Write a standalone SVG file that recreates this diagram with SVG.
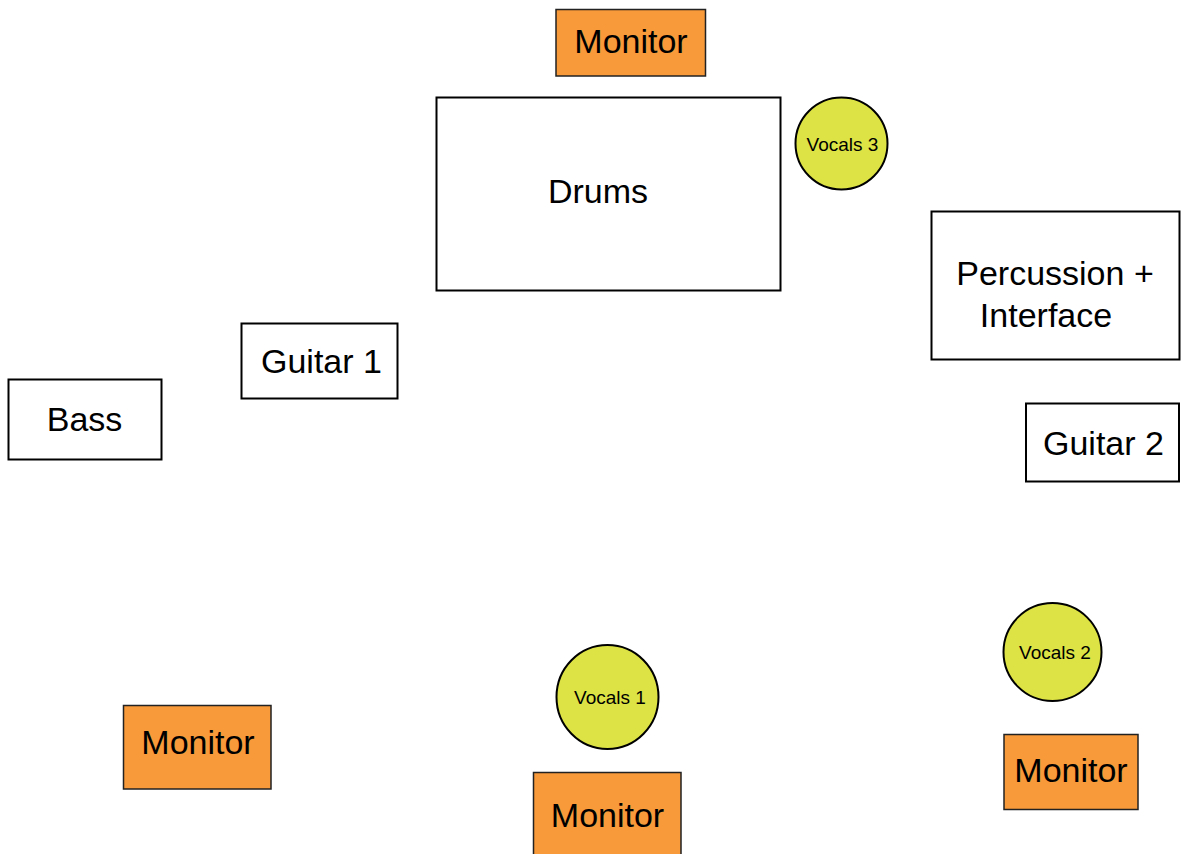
<svg xmlns="http://www.w3.org/2000/svg" width="1182" height="854" viewBox="0 0 1182 854">
<style>
.box{fill:#ffffff;stroke:#000000;stroke-width:2}
.mon{fill:#F8993A;stroke:#222222;stroke-width:1.5}
.voc{fill:#DDE344;stroke:#000000;stroke-width:2}
.t{font-family:"Liberation Sans",Arial,sans-serif;font-size:34px;fill:#000;text-anchor:middle}
.s{font-family:"Liberation Sans",Arial,sans-serif;font-size:19px;fill:#000;text-anchor:middle}
</style>
<rect width="1182" height="854" fill="#ffffff"/>
<g id="connectors"></g>
<g id="monitor-top"><rect class="mon" x="556" y="9.5" width="149.5" height="66.5"/><text class="t" x="631" y="53">Monitor</text></g>
<g id="drums"><rect class="box" x="436.5" y="97.5" width="344" height="193"/><text class="t" x="598" y="203">Drums</text></g>
<g id="vocals3"><circle class="voc" cx="841.5" cy="143.5" r="46"/><text class="s" x="842.5" y="151">Vocals 3</text></g>
<g id="percussion"><rect class="box" x="931.5" y="211.5" width="248" height="148"/><text class="t" x="1055" y="285">Percussion +</text><text class="t" x="1046" y="327">Interface</text></g>
<g id="guitar1"><rect class="box" x="241.5" y="323.5" width="156" height="75"/><text class="t" x="321.5" y="373">Guitar 1</text></g>
<g id="bass"><rect class="box" x="8.5" y="379.5" width="153" height="80"/><text class="t" x="84.5" y="431">Bass</text></g>
<g id="guitar2"><rect class="box" x="1026" y="403.5" width="153" height="78"/><text class="t" x="1103.5" y="455">Guitar 2</text></g>
<g id="vocals2"><circle class="voc" cx="1052.5" cy="652" r="49"/><text class="s" x="1055" y="659">Vocals 2</text></g>
<g id="vocals1"><ellipse class="voc" cx="607.5" cy="697" rx="51" ry="52"/><text class="s" x="610" y="704">Vocals 1</text></g>
<g id="monitor-left"><rect class="mon" x="123.5" y="705.5" width="147.5" height="83.5"/><text class="t" x="198" y="754">Monitor</text></g>
<g id="monitor-bottom"><rect class="mon" x="533.5" y="772.5" width="147.5" height="90"/><text class="t" x="607.5" y="827">Monitor</text></g>
<g id="monitor-right"><rect class="mon" x="1004" y="734.5" width="134" height="75"/><text class="t" x="1071" y="782">Monitor</text></g>
</svg>
